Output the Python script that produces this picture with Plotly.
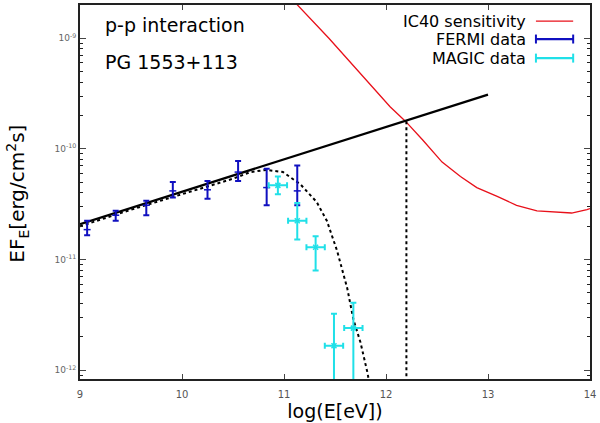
import plotly.graph_objects as go

# FERMI data: log10(E/eV), log10(EF_E), error bar ends (log10)
fermi_logE = [9.07, 9.35, 9.65, 9.91, 10.25, 10.55, 10.83, 11.13]
fermi_logF = [-10.73, -10.60, -10.51, -10.38, -10.37, -10.21, -10.35, -10.38]
fermi_hi = [-10.65, -10.56, -10.47, -10.30, -10.29, -10.11, -10.18, -10.15]
fermi_lo = [-10.78, -10.65, -10.60, -10.44, -10.45, -10.29, -10.51, -10.51]

# MAGIC data
magic_logE = [10.94, 11.13, 11.31, 11.49, 11.68]
magic_dE = [0.09, 0.09, 0.09, 0.09, 0.09]
magic_logF = [-10.33, -10.65, -10.89, -11.78, -11.62]
magic_hi = [-10.25, -10.49, -10.79, -11.49, -11.39]
magic_lo = [-10.41, -10.82, -11.10, -13.0, -13.0]

# power-law model (straight line in log-log)
pl_logE = [9.0, 13.0]
pl_logF = [-10.68, -9.51]

# model with cutoff
cut_logE = [9.0, 9.5, 10.0, 10.5, 10.67, 10.83, 10.99, 11.16, 11.32, 11.42,
            11.52, 11.62, 11.68, 11.75, 11.82, 11.86]
cut_logF = [-10.70, -10.55, -10.41, -10.27, -10.21, -10.19, -10.21, -10.32,
            -10.48, -10.65, -10.92, -11.26, -11.54, -11.75, -12.03, -12.25]

# IC40 sensitivity
ic_logE = [11.05, 11.44, 12.04, 12.19, 12.36, 12.55, 12.73, 12.89, 13.09,
           13.28, 13.48, 13.68, 13.82, 13.97, 14.0]
ic_logF = [-8.62, -9.0, -9.62, -9.75, -9.92, -10.12, -10.25, -10.35, -10.43,
           -10.51, -10.56, -10.57, -10.58, -10.55, -10.54]

# threshold marker
thr_logE = 12.2
thr_logF = -9.75

p = lambda a: [10 ** v for v in a]

fig = go.Figure()

fig.add_trace(go.Scatter(
    x=ic_logE, y=p(ic_logF), mode='lines',
    line=dict(color='#e8101a', width=1.3), showlegend=False))

fig.add_trace(go.Scatter(
    x=pl_logE, y=p(pl_logF), mode='lines',
    line=dict(color='black', width=2.2), showlegend=False))

fig.add_trace(go.Scatter(
    x=cut_logE, y=p(cut_logF), mode='lines',
    line=dict(color='black', width=2, dash='dot'), showlegend=False))

fig.add_trace(go.Scatter(
    x=[thr_logE, thr_logE], y=[10 ** thr_logF, 1e-13], mode='lines',
    line=dict(color='black', width=2, dash='dot'), showlegend=False))

fig.add_trace(go.Scatter(
    x=fermi_logE, y=p(fermi_logF), mode='markers',
    marker=dict(symbol='line-ew', size=5, color='#1010c0',
                line=dict(width=1.5, color='#1010c0')),
    error_y=dict(type='data', symmetric=False,
                 array=[10 ** h - 10 ** v for h, v in zip(fermi_hi, fermi_logF)],
                 arrayminus=[10 ** v - 10 ** l for v, l in zip(fermi_logF, fermi_lo)],
                 color='#1010c0', thickness=2, width=3),
    showlegend=False))

fig.add_trace(go.Scatter(
    x=magic_logE, y=p(magic_logF), mode='markers',
    marker=dict(symbol='x-thin', size=5, color='#20e0e8',
                line=dict(width=1.5, color='#20e0e8')),
    error_x=dict(type='data', array=magic_dE, color='#20e0e8', thickness=2, width=3),
    error_y=dict(type='data', symmetric=False,
                 array=[10 ** h - 10 ** v for h, v in zip(magic_hi, magic_logF)],
                 arrayminus=[10 ** v - 10 ** l for v, l in zip(magic_logF, magic_lo)],
                 color='#20e0e8', thickness=2, width=3),
    showlegend=False))

# axis ticks
ytick_vals = [1e-12, 1e-11, 1e-10, 1e-9]
ytick_text = ['10<sup>-12</sup>', '10<sup>-11</sup>', '10<sup>-10</sup>', '10<sup>-9</sup>']
yminor = [m * 10.0 ** e for e in range(-13, -8) for m in range(2, 10)]

# legend built by hand (text left of sample, like gnuplot)
legend_rows = ['IC40 sensitivity', 'FERMI data', 'MAGIC data']
legend_cols = ['#e8101a', '#1010c0', '#20e0e8']
legend_y = [0.957, 0.909, 0.858]
shapes = []
annots = []
for name, col, yy in zip(legend_rows, legend_cols, legend_y):
    annots.append(dict(x=0.878, y=yy, xref='paper', yref='paper', text=name,
                       showarrow=False, xanchor='right', yanchor='middle',
                       font=dict(size=16, color='black')))
    w = 1.3 if name.startswith('IC40') else 2.2
    shapes.append(dict(type='line', xref='paper', yref='paper',
                       x0=0.894, x1=0.967, y0=yy, y1=yy,
                       line=dict(color=col, width=w)))
    if not name.startswith('IC40'):
        for xx in (0.894, 0.967):
            shapes.append(dict(type='line', xref='paper', yref='paper',
                               x0=xx, x1=xx, y0=yy - 0.012, y1=yy + 0.012,
                               line=dict(color=col, width=2)))

annots.append(dict(x=0.045, y=0.947, xref='paper', yref='paper', text='p-p interaction',
                   showarrow=False, xanchor='left', yanchor='middle',
                   font=dict(size=19, color='black')))
annots.append(dict(x=0.045, y=0.848, xref='paper', yref='paper', text='PG 1553+113',
                   showarrow=False, xanchor='left', yanchor='middle',
                   font=dict(size=19, color='black')))
# y axis title, placed by hand further left than plotly would put it
annots.append(dict(x=-0.122, y=0.495, xref='paper', yref='paper',
                   text='EF<sub>E</sub>[erg/cm<sup>2</sup>s]', textangle=-90,
                   showarrow=False, xanchor='center', yanchor='middle',
                   font=dict(size=20, color='black')))

fig.update_layout(
    width=600, height=423,
    margin=dict(l=80, r=10, t=5, b=44, autoexpand=False),
    plot_bgcolor='white', paper_bgcolor='white',
    font=dict(family='DejaVu Sans, Arial, sans-serif'),
    shapes=shapes, annotations=annots,
    xaxis=dict(range=[9, 14], tickvals=[9, 10, 11, 12, 13, 14],
               ticks='inside', ticklen=5, mirror='ticks', showline=True,
               linecolor='#222', linewidth=2, showgrid=False, zeroline=False,
               tickfont=dict(size=10, color='#555'), ticklabelstandoff=5,
               title=dict(text='log(E[eV])', font=dict(size=19, color='black'),
                          standoff=0)),
    yaxis=dict(type='log', range=[-12.08, -8.7],
               tickvals=ytick_vals, ticktext=ytick_text,
               ticks='inside', ticklen=6, mirror='ticks', showline=True,
               linecolor='#222', linewidth=2, showgrid=False, zeroline=False,
               tickfont=dict(size=9, color='#666'),
               minor=dict(tickvals=yminor, ticks='inside', ticklen=3,
                          tickcolor='#222', showgrid=False)),
)

fig.write_html('out.html', config={'displayModeBar': False},
               post_script="document.body.style.margin='0';")
